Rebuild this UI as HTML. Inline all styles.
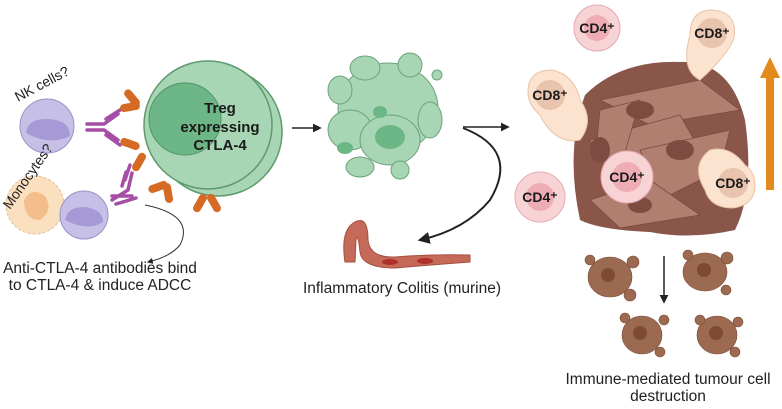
<!DOCTYPE html>
<html><head><meta charset="utf-8"><style>
html,body{margin:0;padding:0;background:#fff;}
svg{display:block;font-family:"Liberation Sans",sans-serif;}
</style></head><body>
<svg width="782" height="409" viewBox="0 0 782 409" xmlns="http://www.w3.org/2000/svg">
<defs>
<marker id="ah" viewBox="0 0 10 10" refX="8" refY="5" markerWidth="6" markerHeight="6" orient="auto"><path d="M0,0 L10,5 L0,10 z" fill="#222"/></marker>
</defs>
<!-- Treg -->
<circle cx="218" cy="132" r="64" fill="#a8d6b4" stroke="#5f9a6c" stroke-width="1.5"/>
<circle cx="208" cy="125" r="64" fill="#a8d6b4" stroke="#5f9a6c" stroke-width="1.5"/>
<circle cx="185" cy="119" r="36" fill="#6db685" stroke="#4f9466" stroke-width="1"/>
<g font-weight="bold" font-size="15" fill="#1a1a1a" text-anchor="middle">
<text x="220" y="113">Treg</text><text x="220" y="132">expressing</text><text x="220" y="150">CTLA-4</text></g>
<!-- NK cell -->
<circle cx="47" cy="126" r="27" fill="#c6c0e6" stroke="#9a92c8"/>
<path d="M26,133 Q28,118 48,119 Q70,120 70,136 Q50,146 26,133z" fill="#a799d6"/>
<text x="18" y="102" font-size="14" fill="#222" transform="rotate(-28 18 102)">NK cells?</text>
<!-- monocyte -->
<circle cx="35" cy="205" r="29" fill="#fbe0bf" stroke="#e0c196" stroke-dasharray="3 2"/>
<path d="M24,200 Q32,186 45,196 Q54,210 40,220 Q24,220 24,200z" fill="#f3bd8c"/>
<circle cx="84" cy="215" r="24" fill="#c6c0e6" stroke="#9a92c8"/>
<path d="M65,220 Q67,207 84,207 Q103,209 103,222 Q88,232 65,220z" fill="#a799d6"/>
<text x="10" y="210" font-size="14" fill="#222" transform="rotate(-55 10 210)">Monocytes?</text>
<!-- antibodies -->
<g stroke="#a64ea6" stroke-width="3.5" fill="none" stroke-linecap="round">
<path d="M87,124 H104 L118,114 M87,130 H104 L118,140 M106,119 L120,110 M106,135 L120,145"/>
<path d="M112,196 H132 M112,200 L128,190 L132,173 M116,204 L136,198 M126,172 L122,186"/>
<path d="M125,180 L130,165"/>
</g>
<!-- CTLA-4 orange receptors -->
<g fill="#d46a24">
<rect x="128" y="88" width="8" height="20" rx="4" transform="rotate(-40 132 98)"/>
<rect x="120" y="103" width="20" height="8" rx="4" transform="rotate(-10 130 107)"/>
<rect x="120" y="140" width="20" height="8" rx="4" transform="rotate(20 130 144)"/>
<rect x="135" y="152" width="8" height="20" rx="4" transform="rotate(30 139 162)"/>
<rect x="148" y="183" width="20" height="8" rx="4" transform="rotate(-20 158 187)"/>
<rect x="164" y="183" width="8" height="20" rx="4" transform="rotate(-10 168 193)"/>
<rect x="196" y="193" width="8" height="20" rx="4" transform="rotate(30 200 203)"/>
<rect x="210" y="193" width="8" height="20" rx="4" transform="rotate(-30 214 203)"/>
</g>
<path d="M145,205 Q195,215 180,245 Q170,257 148,262" stroke="#333" stroke-width="1" fill="none" marker-end="url(#ah)"/>
<g font-size="15.5" fill="#222" text-anchor="middle">
<text x="100" y="273">Anti-CTLA-4 antibodies bind</text>
<text x="100" y="290">to CTLA-4 &amp; induce ADCC</text></g>
<!-- arrows -->
<line x1="292" y1="128" x2="320" y2="128" stroke="#222" stroke-width="1.5" marker-end="url(#ah)"/>
<line x1="463" y1="127" x2="508" y2="127" stroke="#222" stroke-width="1.5" marker-end="url(#ah)"/>
<path d="M463,128 Q520,150 490,200 Q465,230 420,240" stroke="#222" stroke-width="2" fill="none" marker-end="url(#ah)"/>
<!-- green cluster -->
<g fill="#a8d6b4" stroke="#6aa37a" stroke-width="1">
<ellipse cx="388" cy="108" rx="50" ry="45"/>
<ellipse cx="365" cy="68" rx="15" ry="12"/>
<ellipse cx="410" cy="65" rx="12" ry="12"/>
<circle cx="437" cy="75" r="5"/>
<ellipse cx="350" cy="130" rx="22" ry="20"/>
<ellipse cx="390" cy="140" rx="30" ry="25"/>
<ellipse cx="430" cy="120" rx="12" ry="18"/>
<ellipse cx="360" cy="167" rx="14" ry="10"/>
<ellipse cx="400" cy="170" rx="9" ry="9"/>
<ellipse cx="340" cy="90" rx="12" ry="14"/>
</g>
<g fill="#6db685"><ellipse cx="390" cy="137" rx="15" ry="12"/><ellipse cx="345" cy="148" rx="8" ry="6"/><ellipse cx="380" cy="112" rx="7" ry="6"/></g>
<!-- colitis worm -->
<path d="M345,262 Q340,230 355,222 Q368,215 368,240 Q370,258 395,257 Q430,254 470,255 L470,262 Q430,265 395,268 Q362,268 360,252 Q358,232 356,240 L355,262z" fill="#c56a58" stroke="#a45040"/>
<ellipse cx="390" cy="262" rx="8" ry="3" fill="#b0302a"/><ellipse cx="425" cy="261" rx="8" ry="3" fill="#b0302a"/>
<text x="402" y="293" font-size="15.5" fill="#222" text-anchor="middle">Inflammatory Colitis (murine)</text>
<!-- tumor mass -->
<path d="M585,95 Q620,60 680,62 Q730,60 745,120 Q755,190 735,230 Q690,240 650,232 Q600,230 580,220 Q565,150 585,95z" fill="#8a564a"/>
<g fill="#b07f70" stroke="#7a4a3e" stroke-width="0.8">
<path d="M600,100 L700,80 L740,110 L650,125z"/>
<path d="M590,140 L680,115 L700,150 L610,180z"/>
<path d="M640,150 L730,130 L720,170 L660,200z"/>
<path d="M590,200 L650,180 L700,215 L620,228z"/>
<path d="M600,110 L640,100 L620,170 L595,160z"/>
</g>
<g fill="#7d4b40"><ellipse cx="640" cy="110" rx="14" ry="9"/><ellipse cx="600" cy="150" rx="10" ry="13"/><ellipse cx="680" cy="150" rx="14" ry="10"/><ellipse cx="640" cy="205" rx="12" ry="8"/></g>
<!-- immune cells -->
<g font-weight="bold" font-size="14" fill="#1a1a1a" text-anchor="middle">
<circle cx="597" cy="28" r="23" fill="#f7d3d6" stroke="#e7a8b0"/><circle cx="597" cy="28" r="13" fill="#eeadb5"/><text x="597" y="33">CD4⁺</text>
<circle cx="540" cy="197" r="25" fill="#f7d3d6" stroke="#e7a8b0"/><circle cx="540" cy="197" r="14" fill="#eeadb5"/><text x="540" y="202">CD4⁺</text>
<circle cx="627" cy="177" r="26" fill="#f7d3d6" stroke="#e7a8b0"/><circle cx="627" cy="177" r="15" fill="#eeadb5"/><text x="627" y="182">CD4⁺</text>
<path d="M690,35 Q690,10 712,10 Q738,12 734,38 Q728,55 700,80 Q680,70 690,35z" fill="#fbe3cf" stroke="#e8c4a6"/>
<circle cx="712" cy="33" r="15" fill="#e8c3ad"/><text x="712" y="38">CD8⁺</text>
<path d="M528,92 Q528,70 552,70 Q575,75 580,100 Q595,120 580,140 Q555,145 540,115 Q528,105 528,92z" fill="#fbe3cf" stroke="#e8c4a6"/>
<circle cx="550" cy="95" r="15" fill="#e8c3ad"/><text x="550" y="100">CD8⁺</text>
<path d="M755,185 Q755,205 733,208 Q710,208 705,190 Q690,165 710,150 Q730,145 745,165 Q755,172 755,185z" fill="#fbe3cf" stroke="#e8c4a6"/>
<circle cx="733" cy="183" r="15" fill="#e8c3ad"/><text x="733" y="188">CD8⁺</text>
</g>
<!-- orange arrow -->
<polygon points="770,57 780,78 774,78 774,190 766,190 766,78 760,78" fill="#e28a1e"/>
<!-- fragments -->
<g fill="#9c6a50" stroke="#7a4a35" stroke-width="0.6">
<ellipse cx="610" cy="277" rx="22" ry="20"/><circle cx="590" cy="260" r="5"/><circle cx="633" cy="262" r="6"/><circle cx="630" cy="295" r="6"/>
<ellipse cx="705" cy="272" rx="22" ry="19"/><circle cx="688" cy="255" r="5"/><circle cx="727" cy="258" r="6"/><circle cx="726" cy="290" r="5"/>
<ellipse cx="642" cy="335" rx="20" ry="19"/><circle cx="625" cy="318" r="5"/><circle cx="664" cy="320" r="5"/><circle cx="660" cy="352" r="5"/>
<ellipse cx="717" cy="335" rx="20" ry="19"/><circle cx="700" cy="320" r="5"/><circle cx="738" cy="322" r="5"/><circle cx="735" cy="352" r="5"/>
</g>
<g fill="#7e4a35"><circle cx="608" cy="275" r="7"/><circle cx="704" cy="270" r="7"/><circle cx="640" cy="333" r="7"/><circle cx="716" cy="333" r="7"/></g>
<line x1="664" y1="256" x2="664" y2="302" stroke="#222" stroke-width="1.5" marker-end="url(#ah)"/>
<g font-size="15.5" fill="#222" text-anchor="middle">
<text x="668" y="384">Immune-mediated tumour cell</text>
<text x="668" y="401">destruction</text></g>
</svg>
</body></html>
